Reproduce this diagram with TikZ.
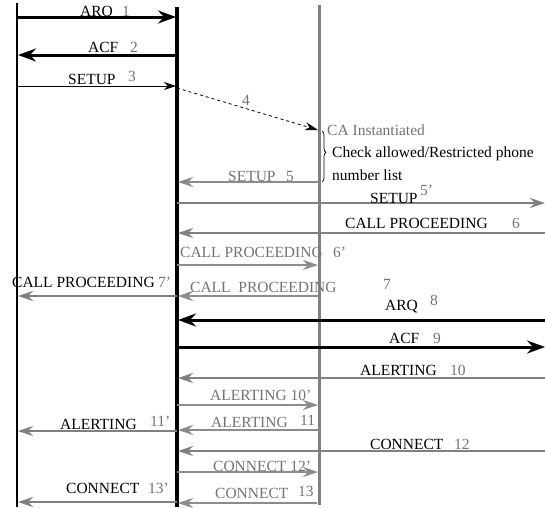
\documentclass[tikz,border=0pt]{standalone}
\usepackage{fontspec}
\setmainfont{Liberation Serif}
\usetikzlibrary{arrows.meta,decorations.pathreplacing}
\definecolor{lgray}{gray}{0.55}
\definecolor{mgray}{gray}{0.50}
\definecolor{tgray}{gray}{0.45}
\begin{document}
\begin{tikzpicture}[x=1pt,y=-1pt,
  every node/.style={inner sep=0pt,anchor=base west,font=\fontsize{15.5}{17}\selectfont},
  lbl/.style={text=black},
  num/.style={text=tgray},
  glbl/.style={text=tgray},
  thickmsg/.style={line width=3pt,-{Stealth[length=18pt,width=13pt,inset=6pt]}},
  thinmsg/.style={line width=1pt,-{Stealth[length=12pt,width=8pt,inset=4pt]}},
  graymsg/.style={draw=mgray,line width=1.5pt,-{Stealth[length=15pt,width=10pt,inset=5pt]}},
  lgraymsg/.style={draw=lgray,line width=1.5pt,-{Stealth[length=15pt,width=10pt,inset=5pt]}},
  dashmsg/.style={line width=0.8pt,dashed,-{Stealth[length=13pt,width=8pt,inset=4pt]}}]
\useasboundingbox (0,0) rectangle (545,507);
% lifelines
\coordinate (Ltop) at (17,3);   \coordinate (Lbot) at (17,507);
\coordinate (Mtop) at (177,7);  \coordinate (Mbot) at (177,507);
\coordinate (Gtop) at (319,5);  \coordinate (Gbot) at (319,505);
\draw[line width=2.5pt] (Ltop) -- (Lbot);
\draw[line width=3.5pt] (Mtop) -- (Mbot);
\draw[mgray,line width=3pt] (Gtop) -- (Gbot);
% message end points
\coordinate (L1) at (17,17);   \coordinate (M1) at (176,17);
\coordinate (M2) at (177,55);  \coordinate (L2) at (18,55);
\coordinate (L3) at (17,86);   \coordinate (M3) at (176,86);
\coordinate (M4) at (177,88);  \coordinate (G4) at (318,130);
\coordinate (G5) at (319,182); \coordinate (M5) at (178,182);
\coordinate (M5p) at (177,203); \coordinate (R5p) at (545,203);
\coordinate (R6) at (545,233); \coordinate (M6) at (178,233);
\coordinate (M6p) at (177,265); \coordinate (G6p) at (318,265);
\coordinate (G7) at (319,296); \coordinate (M7) at (178,296);
\coordinate (M7p) at (177,296); \coordinate (L7p) at (18,296);
\coordinate (R8) at (545,320); \coordinate (M8) at (178,320);
\coordinate (M9) at (177,347); \coordinate (R9) at (545,347);
\coordinate (R10) at (545,378); \coordinate (M10) at (178,378);
\coordinate (M10p) at (177,405); \coordinate (G10p) at (318,405);
\coordinate (G11) at (319,430); \coordinate (M11) at (178,430);
\coordinate (M11p) at (177,431); \coordinate (L11p) at (18,431);
\coordinate (R12) at (545,451); \coordinate (M12) at (178,451);
\coordinate (M12p) at (177,472); \coordinate (G12p) at (318,472);
\coordinate (G13) at (317,503); \coordinate (M13) at (178,503);
\coordinate (M13p) at (177,502); \coordinate (L13p) at (18,502);
% messages
\draw[thickmsg] (L1) -- (M1);
\draw[thickmsg] (M2) -- (L2);
\draw[thinmsg] (L3) -- (M3);
\draw[dashmsg] (M4) -- (G4);
\draw[lgraymsg] (G5) -- (M5);
\draw[graymsg] (M5p) -- (R5p);
\draw[graymsg] (R6) -- (M6);
\draw[lgraymsg] (M6p) -- (G6p);
\draw[lgraymsg] (G7) -- (M7);
\draw[graymsg] (M7p) -- (L7p);
\draw[thickmsg] (R8) -- (M8);
\draw[thickmsg] (M9) -- (R9);
\draw[graymsg] (R10) -- (M10);
\draw[lgraymsg] (M10p) -- (G10p);
\draw[lgraymsg] (G11) -- (M11);
\draw[graymsg] (M11p) -- (L11p);
\draw[graymsg] (R12) -- (M12);
\draw[lgraymsg] (M12p) -- (G12p);
\draw[lgraymsg] (G13) -- (M13);
\draw[graymsg] (M13p) -- (L13p);
% brace
\coordinate (B1) at (322,131); \coordinate (B2) at (322,182);
\draw[line width=0.7pt,decorate,decoration={brace,amplitude=4pt,aspect=0.42}] (B1) -- (B2);
% labels
\node[lbl] (t1) at (80,16) {ARQ}; \node[num] (n1) at (122,16) {1};
\node[lbl] (t2) at (88,52) {ACF}; \node[num] (n2) at (130,52) {2};
\node[lbl] (t3) at (68,84) {SETUP}; \node[num] (n3) at (128,81) {3};
\node[num] (n4) at (242,105) {4};
\node[glbl] (ca) at (327,135) {CA Instantiated};
\node[lbl] (chk1) at (332,157) {Check allowed/Restricted phone};
\node[lbl] (chk2) at (332,180) {number list};
\node[glbl] (t5) at (228,181) {SETUP}; \node[num] (n5) at (286,181) {5};
\node[lbl] (t5p) at (370,203) {SETUP}; \node[num] (n5p) at (420,195) {5’};
\node[lbl] (t6) at (345,228) {CALL PROCEEDING}; \node[num] (n6) at (512,228) {6};
\node[glbl] (t6p) at (180,257) {CALL PROCEEDING}; \node[num] (n6p) at (333,257) {6’};
\node[lbl] (t7p) at (12,287) {CALL PROCEEDING}; \node[num] (n7p) at (158,287) {7’};
\node[glbl] (t7) at (190,292) {CALL\ \ PROCEEDING}; \node[num] (n7) at (383,289) {7};
\node[lbl] (t8) at (385,310) {ARQ}; \node[num] (n8) at (430,305) {8};
\node[lbl] (t9) at (389,343) {ACF}; \node[num] (n9) at (433,343) {9};
\node[lbl] (t10) at (360,375) {ALERTING}; \node[num] (n10) at (450,375) {10};
\node[glbl] (t10p) at (210,400) {ALERTING 10’};
\node[glbl] (t11) at (211,427) {ALERTING}; \node[num] (n11) at (300,425) {11};
\node[lbl] (t11p) at (60,429) {ALERTING}; \node[num] (n11p) at (150,426) {11’};
\node[lbl] (t12) at (370,449) {CONNECT}; \node[num] (n12) at (454,449) {12};
\node[glbl] (t12p) at (213,471) {CONNECT 12’};
\node[glbl] (t13) at (215,498) {CONNECT}; \node[num] (n13) at (298,496) {13};
\node[lbl] (t13p) at (66,493) {CONNECT}; \node[num] (n13p) at (148,493) {13’};
\end{tikzpicture}
\end{document}
